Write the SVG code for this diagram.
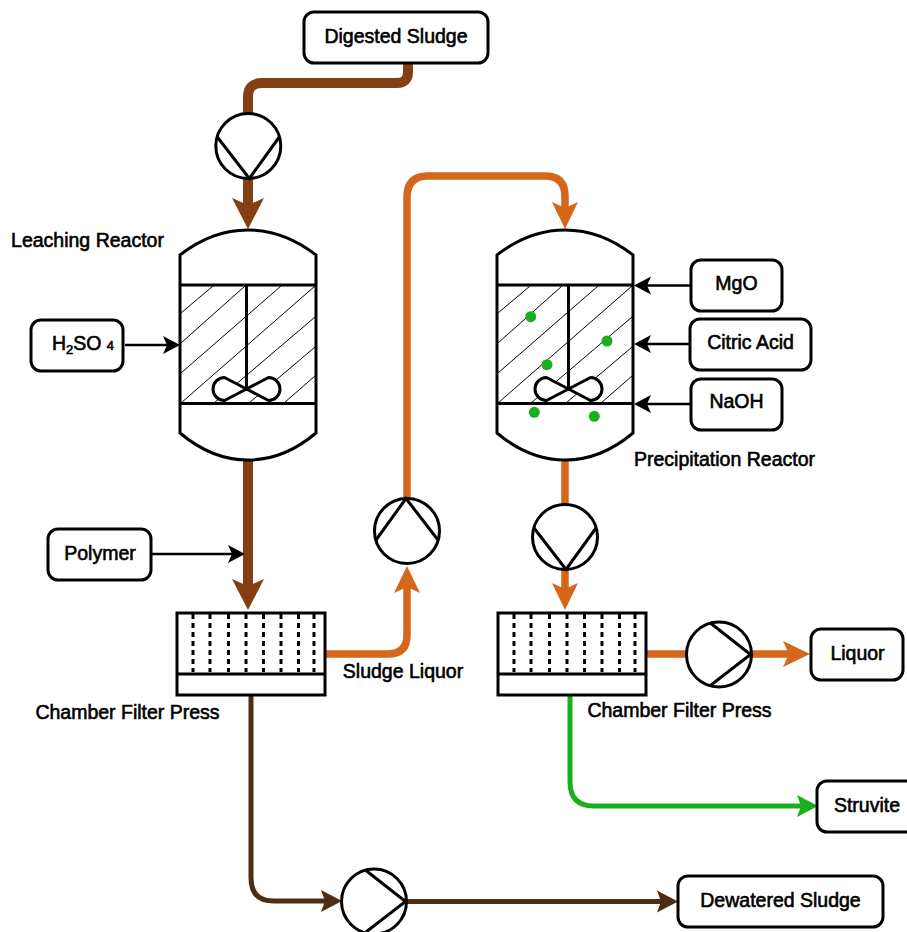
<svg xmlns="http://www.w3.org/2000/svg" xmlns:xlink="http://www.w3.org/1999/xlink" width="907" height="932" viewBox="0 0 907 932">
<style>
text{font-family:"Liberation Sans",Arial,sans-serif;font-size:19.500px;fill:#000;stroke:#000;stroke-width:.6px;text-anchor:middle}
.box{fill:#fff;stroke:#000;stroke-width:3}
.ves{fill:#fff;stroke:#000;stroke-width:3}
.ln{fill:none;stroke:#000;stroke-width:3}
.hatch{fill:none;stroke:#000;stroke-width:1}
.dash{fill:none;stroke:#000;stroke-width:3;stroke-dasharray:5 4}
.imp{fill:#fff;stroke:#000;stroke-width:3;stroke-linejoin:round}
.dot{fill:#1aaf1d}
.c{fill:none;stroke-linejoin:round}
.br{stroke:#843f12;stroke-width:10}
.or{stroke:#d5661a;stroke-width:7.500}
.gr{stroke:#1aaf1d;stroke-width:5}
.db{stroke:#4f2d13;stroke-width:5}
.bk{stroke:#000;stroke-width:2.500}
</style>
<defs>
<marker id="mBr" markerUnits="userSpaceOnUse" orient="auto" overflow="visible" markerWidth="40" markerHeight="40" refX="0" refY="0"><path d="M-7,-16L24,0L-7,16L0,0Z" fill="#843f12"/></marker>
<marker id="mOr" markerUnits="userSpaceOnUse" orient="auto" overflow="visible" markerWidth="40" markerHeight="40" refX="0" refY="0"><path d="M-6,-13L21,0L-6,13L0,0Z" fill="#d5661a"/></marker>
<marker id="mGr" markerUnits="userSpaceOnUse" orient="auto" overflow="visible" markerWidth="40" markerHeight="40" refX="0" refY="0"><path d="M-4,-11L17,0L-4,11L0,0Z" fill="#1aaf1d"/></marker>
<marker id="mDb" markerUnits="userSpaceOnUse" orient="auto" overflow="visible" markerWidth="40" markerHeight="40" refX="0" refY="0"><path d="M-4,-11L17,0L-4,11L0,0Z" fill="#4f2d13"/></marker>
<marker id="mBk" markerUnits="userSpaceOnUse" orient="auto" overflow="visible" markerWidth="30" markerHeight="30" refX="0" refY="0"><path d="M-4,-9L13,0L-4,9L0,0Z" fill="#000"/></marker>
<g id="vessel">
<path class="ves" d="M180,255Q212,230 248,230Q284,230 316,255V433Q284,460 248,460Q212,460 180,433Z"/>
<path class="hatch" d="M181,313L213,286M181,343L245,286M181,373L281,286M181,403L315,286M214,403L315,317M249,403L315,347M284,403L315,376"/>
<path class="ln" d="M180,285H316M180,403.500H316"/>
</g>
<g id="impeller">
<path class="ln" d="M0,-104V0"/>
<path class="imp" d="M0,0L-22,-11.500A11.500,11.500 0 1 0 -22,11.500ZM0,0L22,-11.500A11.500,11.500 0 1 1 22,11.500Z"/>
</g>
<g id="press">
<rect class="ves" x="177" y="613" width="148" height="82"/>
<path class="ln" d="M177,674H325"/>
<path class="dash" d="M193,614V672M210,614V672M228.500,614V672M246,614V672M263.500,614V672M281,614V672M298.500,614V672M314,614V672"/>
</g>
<g id="pumpDown">
<circle class="ves" r="32.500"/>
<path class="ln" d="M-31,-9L1,32.500L31,-9"/>
</g>
<g id="pumpRight">
<circle class="ves" r="32.500"/>
<path class="ln" d="M-8,-31L31.500,0L-8,30.500"/>
</g>
</defs>
<g id="connectors">
<path class="c br" d="M408,63V72Q408,83 397,83H262Q248,83 248,97V113"/>
<path class="c br" d="M248,179V205" marker-end="url(#mBr)"/>
<path class="c br" d="M248,460V586" marker-end="url(#mBr)"/>
<path class="c or" d="M326,654H388Q407,654 407,635V587" marker-end="url(#mOr)"/>
<path class="c or" d="M407,498V197Q407,176 428,176H545Q565,176 565,196V208" marker-end="url(#mOr)"/>
<path class="c or" d="M565,460V504"/>
<path class="c or" d="M565,570V589" marker-end="url(#mOr)"/>
<path class="c or" d="M646,654H687"/>
<path class="c or" d="M751,654H789" marker-end="url(#mOr)"/>
<path class="c gr" d="M570,696V782Q570,806 594,806H801" marker-end="url(#mGr)"/>
<path class="c db" d="M251,696V878Q251,901 274,901H325" marker-end="url(#mDb)"/>
<path class="c db" d="M406,901.500H661" marker-end="url(#mDb)"/>
<path class="c bk" d="M125,345H167" marker-end="url(#mBk)"/>
<path class="c bk" d="M152,554H232" marker-end="url(#mBk)"/>
<path class="c bk" d="M691,285.500H647" marker-end="url(#mBk)"/>
<path class="c bk" d="M690,344H647" marker-end="url(#mBk)"/>
<path class="c bk" d="M691,404H647" marker-end="url(#mBk)"/>
</g>
<g id="leaching-reactor">
<use href="#vessel"/>
<use href="#impeller" transform="translate(246.500,389)"/>
<text x="87.500" y="247">Leaching Reactor</text>
</g>
<g id="precipitation-reactor">
<use href="#vessel" transform="translate(317,0)"/>
<use href="#impeller" transform="translate(568.500,389)"/>
<circle class="dot" cx="530.700" cy="316.700" r="5.500"/>
<circle class="dot" cx="607" cy="341" r="5.500"/>
<circle class="dot" cx="547" cy="364.700" r="5.500"/>
<circle class="dot" cx="534.300" cy="412.300" r="5.500"/>
<circle class="dot" cx="594.300" cy="416.300" r="5.500"/>
<text x="724.500" y="466">Precipitation Reactor</text>
</g>
<g id="press-left"><use href="#press"/><text x="127.500" y="719">Chamber Filter Press</text></g>
<g id="press-right"><use href="#press" transform="translate(321,0)"/><text x="679.500" y="717">Chamber Filter Press</text></g>
<g id="sludge-liquor-label"><text x="403" y="678">Sludge Liquor</text></g>
<g id="pump-1"><use href="#pumpDown" transform="translate(248.300,146)"/></g>
<g id="pump-2"><use href="#pumpDown" transform="translate(407,531) rotate(180)"/></g>
<g id="pump-3"><use href="#pumpDown" transform="translate(565,537)"/></g>
<g id="pump-4"><use href="#pumpRight" transform="translate(719,654.500)"/></g>
<g id="pump-5"><use href="#pumpRight" transform="translate(374,901.500)"/></g>
<g id="digested-sludge"><rect class="box" x="304" y="12" width="184" height="51" rx="10"/><text x="396" y="43">Digested Sludge</text></g>
<g id="h2so4"><rect class="box" x="31" y="320" width="92" height="51" rx="10"/><text x="83" y="350">H<tspan font-size="13" dy="4">2</tspan><tspan dy="-4">SO </tspan><tspan font-size="13">4</tspan></text></g>
<g id="polymer"><rect class="box" x="48" y="529" width="103" height="51" rx="10"/><text x="100" y="560">Polymer</text></g>
<g id="mgo"><rect class="box" x="691" y="260" width="91" height="51" rx="10"/><text x="736.500" y="290">MgO</text></g>
<g id="citric-acid"><rect class="box" x="690" y="319" width="121" height="51" rx="10"/><text x="750.500" y="349">Citric Acid</text></g>
<g id="naoh"><rect class="box" x="691" y="379" width="91" height="51" rx="10"/><text x="736.500" y="408">NaOH</text></g>
<g id="liquor"><rect class="box" x="811" y="629" width="92" height="51" rx="10"/><text x="857.500" y="660">Liquor</text></g>
<g id="struvite"><rect class="box" x="817" y="781" width="100" height="51" rx="10"/><text x="867" y="812">Struvite</text></g>
<g id="dewatered-sludge"><rect class="box" x="678" y="876" width="205" height="51" rx="10"/><text x="780.500" y="907">Dewatered Sludge</text></g>
</svg>
